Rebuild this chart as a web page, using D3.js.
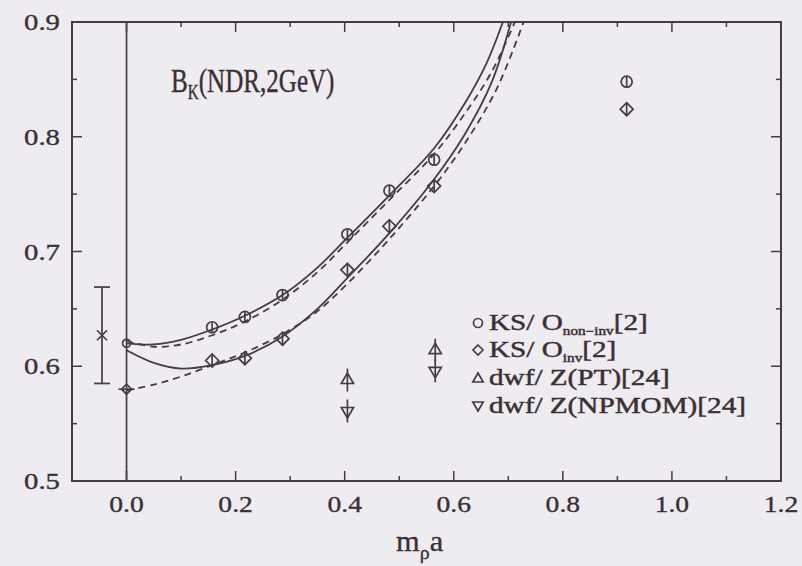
<!DOCTYPE html>
<html><head><meta charset="utf-8">
<script src="https://cdn.jsdelivr.net/npm/d3@7"></script>
<style>
html,body{margin:0;padding:0;background:#eeebf1;}
svg{display:block;}
</style></head>
<body>
<svg id="c" width="802" height="566"></svg>
<script>
// ---- data ----
const xTickValues = [0.0, 0.2, 0.4, 0.6, 0.8, 1.0, 1.2];
const xTickLabels = ["0.0", "0.2", "0.4", "0.6", "0.8", "1.0", "1.2"];
const xMinorTicks = [-0.1, 0.1, 0.3, 0.5, 0.7, 0.9, 1.1];
const yTickValues = [0.5, 0.6, 0.7, 0.8, 0.9];
const yTickLabels = ["0.5", "0.6", "0.7", "0.8", "0.9"];
const yMinorTicks = [0.55, 0.65, 0.75, 0.85];

// KS / O_non-inv (circles)
const ksNonInvX = [0.157, 0.217, 0.286, 0.405, 0.482, 0.564, 0.917];
const ksNonInvY = [0.634, 0.643, 0.662, 0.715, 0.753, 0.780, 0.848];
// KS / O_inv (diamonds)
const ksInvX = [0.157, 0.217, 0.286, 0.405, 0.482, 0.564, 0.917];
const ksInvY = [0.605, 0.607, 0.624, 0.684, 0.722, 0.757, 0.824];
// dwf / Z(PT) (up triangles) with errors
const dwfPtX = [0.405, 0.566];
const dwfPtY = [0.588, 0.614];
const dwfPtErr = [0.010, 0.010];
// dwf / Z(NPMOM) (down triangles) with errors
const dwfNpX = [0.405, 0.566];
const dwfNpY = [0.561, 0.596];
const dwfNpErr = [0.010, 0.010];
// extrapolated values at m_rho a = 0
const extrapCircleY = [0.620];
const extrapDiamondY = [0.580];
// continuum estimate (x mark with error bar)
const finalX = [-0.045];
const finalY = [0.627];
const finalLo = [0.585];
const finalHi = [0.669];

// fit curves
const upperSolidX = [0.0, 0.05, 0.1, 0.157, 0.217, 0.286, 0.35, 0.405, 0.482, 0.564, 0.62, 0.66, 0.69];
const upperSolidY = [0.620, 0.619, 0.623, 0.632, 0.644, 0.662, 0.686, 0.712, 0.749, 0.790, 0.829, 0.864, 0.900];
const upperDashX = [0.0, 0.05, 0.1, 0.157, 0.217, 0.286, 0.35, 0.405, 0.482, 0.564, 0.62, 0.67, 0.712];
const upperDashY = [0.622, 0.617, 0.619, 0.627, 0.639, 0.658, 0.682, 0.708, 0.745, 0.785, 0.820, 0.857, 0.900];
const lowerSolidX = [0.0, 0.05, 0.1, 0.157, 0.217, 0.286, 0.35, 0.405, 0.482, 0.564, 0.62, 0.67, 0.705];
const lowerSolidY = [0.614, 0.603, 0.598, 0.601, 0.609, 0.626, 0.650, 0.677, 0.716, 0.763, 0.802, 0.848, 0.900];
const lowerDashX = [0.0, 0.05, 0.1, 0.157, 0.217, 0.286, 0.35, 0.405, 0.482, 0.564, 0.62, 0.68, 0.728];
const lowerDashY = [0.579, 0.584, 0.591, 0.601, 0.612, 0.628, 0.648, 0.672, 0.711, 0.757, 0.794, 0.843, 0.900];

// ---- drawing ----
const ink = "#463c42";
const textInk = "#3a3035";
const FONT = "'Liberation Serif', 'Times New Roman', Times, serif";
const svg = d3.select("#c").attr("font-family", FONT);
const x = d3.scaleLinear().domain([-0.1, 1.2]).range([72, 781]);
const y = d3.scaleLinear().domain([0.5, 0.9]).range([481, 22]);
const X0 = x.range()[0], X1 = x.range()[1], Y0 = y.range()[0], Y1 = y.range()[1];

svg.append("clipPath").attr("id", "pc").append("rect")
  .attr("x", X0).attr("y", Y1).attr("width", X1 - X0).attr("height", Y0 - Y1);

// frame
svg.append("rect").attr("x", X0).attr("y", Y1).attr("width", X1 - X0).attr("height", Y0 - Y1)
  .attr("fill", "none").attr("stroke", ink).attr("stroke-width", 2);

// vertical line at zero
svg.append("line").attr("x1", x(0)).attr("x2", x(0)).attr("y1", Y1).attr("y2", Y0)
  .attr("stroke", ink).attr("stroke-width", 1.7);

const tk = svg.append("g").attr("stroke", ink).attr("stroke-width", 1.5);
const majL = 10, minL = 5;
xTickValues.forEach(v => {
  tk.append("line").attr("x1", x(v)).attr("x2", x(v)).attr("y1", Y0).attr("y2", Y0 - majL);
  tk.append("line").attr("x1", x(v)).attr("x2", x(v)).attr("y1", Y1).attr("y2", Y1 + majL);
});
xMinorTicks.forEach(v => {
  tk.append("line").attr("x1", x(v)).attr("x2", x(v)).attr("y1", Y0).attr("y2", Y0 - minL);
  tk.append("line").attr("x1", x(v)).attr("x2", x(v)).attr("y1", Y1).attr("y2", Y1 + minL);
});
yTickValues.forEach(v => {
  tk.append("line").attr("x1", X0).attr("x2", X0 + majL).attr("y1", y(v)).attr("y2", y(v));
  tk.append("line").attr("x1", X1).attr("x2", X1 - majL).attr("y1", y(v)).attr("y2", y(v));
});
yMinorTicks.forEach(v => {
  tk.append("line").attr("x1", X0).attr("x2", X0 + minL).attr("y1", y(v)).attr("y2", y(v));
  tk.append("line").attr("x1", X1).attr("x2", X1 - minL).attr("y1", y(v)).attr("y2", y(v));
});

function txt(px, py, size, sx, anchor, sw) {
  return svg.append("text").attr("transform", `translate(${px},${py}) scale(${sx},1)`)
    .attr("text-anchor", anchor || "start").attr("font-size", size)
    .attr("fill", textInk).attr("stroke", textInk).attr("stroke-width", sw || 0.35);
}

// tick labels
xTickValues.forEach((v, i) => {
  txt(x(v), 512, 23, 1.2, "middle").text(xTickLabels[i]);
});
yTickValues.forEach((v, i) => {
  txt(60, y(v) + 8, 23, 1.25, "end").text(yTickLabels[i]);
});

// axis title m_rho a
const xt = txt(396, 551, 29, 1.05);
xt.append("tspan").text("m");
xt.append("tspan").attr("font-size", 19).attr("dy", 8).text("ρ");
xt.append("tspan").attr("dy", -8).text("a");

// title
const tt = txt(171, 92, 33, 0.76, "start", 0.4);
tt.append("tspan").text("B");
tt.append("tspan").attr("font-size", 20).attr("dy", 7).text("K");
tt.append("tspan").attr("dy", -7).text("(NDR,2GeV)");

// curves
const plot = svg.append("g").attr("clip-path", "url(#pc)");
const line = d3.line().x(d => x(d[0])).y(d => y(d[1])).curve(d3.curveCatmullRom.alpha(0.5));
function curve(xs, ys, dash) {
  plot.append("path").datum(xs.map((v, i) => [v, ys[i]]))
    .attr("d", line).attr("fill", "none").attr("stroke", ink)
    .attr("stroke-width", 1.8).attr("stroke-dasharray", dash ? "7,5" : null);
}
curve(upperDashX, upperDashY, true);
curve(lowerDashX, lowerDashY, true);
curve(upperSolidX, upperSolidY, false);
curve(lowerSolidX, lowerSolidY, false);

// symbols
const g = svg.append("g").attr("fill", "none").attr("stroke", ink).attr("stroke-width", 1.7);
function circle(cx, cy, r) {
  g.append("circle").attr("cx", cx).attr("cy", cy).attr("r", r);
}
function diamond(cx, cy, s) {
  g.append("path").attr("d", `M${cx},${cy - s}L${cx + s},${cy}L${cx},${cy + s}L${cx - s},${cy}Z`);
}
function triUp(cx, cy, s) {
  g.append("path").attr("d", `M${cx},${cy - s}L${cx + s * 0.87},${cy + s * 0.5}L${cx - s * 0.87},${cy + s * 0.5}Z`);
}
function triDown(cx, cy, s) {
  g.append("path").attr("d", `M${cx},${cy + s}L${cx + s * 0.87},${cy - s * 0.5}L${cx - s * 0.87},${cy - s * 0.5}Z`);
}
function vbar(cx, y1, y2) {
  g.append("line").attr("x1", cx).attr("x2", cx).attr("y1", y1).attr("y2", y2);
}

ksNonInvX.forEach((v, i) => {
  const cx = x(v), cy = y(ksNonInvY[i]);
  circle(cx, cy, 5.5);
  vbar(cx, cy - 5, cy + 5);
});
ksInvX.forEach((v, i) => {
  const cx = x(v), cy = y(ksInvY[i]);
  diamond(cx, cy, 6.5);
  vbar(cx, cy - 6, cy + 6);
});
dwfPtX.forEach((v, i) => {
  const cx = x(v), cy = y(dwfPtY[i]);
  triUp(cx, cy, 7);
  vbar(cx, y(dwfPtY[i] + dwfPtErr[i]), y(dwfPtY[i] - dwfPtErr[i]));
});
dwfNpX.forEach((v, i) => {
  const cx = x(v), cy = y(dwfNpY[i]);
  triDown(cx, cy, 7);
  vbar(cx, y(dwfNpY[i] + dwfNpErr[i]), y(dwfNpY[i] - dwfNpErr[i]));
});
extrapCircleY.forEach(v => circle(x(0), y(v), 4));
extrapDiamondY.forEach(v => { diamond(x(0), y(v), 5); g.append("line").attr("x1", x(0) - 8).attr("x2", x(0) + 8).attr("y1", y(v)).attr("y2", y(v)); });

finalX.forEach((v, i) => {
  const cx = x(v);
  vbar(cx, y(finalHi[i]), y(finalLo[i]));
  g.append("line").attr("x1", cx - 8).attr("x2", cx + 8).attr("y1", y(finalHi[i])).attr("y2", y(finalHi[i]));
  g.append("line").attr("x1", cx - 8).attr("x2", cx + 8).attr("y1", y(finalLo[i])).attr("y2", y(finalLo[i]));
  const cy = y(finalY[i]);
  g.append("path").attr("d", `M${cx - 5},${cy - 5}L${cx + 5},${cy + 5}M${cx - 5},${cy + 5}L${cx + 5},${cy - 5}`);
});

// legend
const legX = 478, legY = [330, 357, 385, 413];
circle(legX, legY[0] - 7, 4.5);
diamond(legX, legY[1] - 7, 5);
triUp(legX, legY[2] - 6, 6);
triDown(legX, legY[3] - 8, 6);
function legText(yy, main, sub, tail) {
  const t = txt(legX + 11, yy, 23, 1.27, "start", 0.45);
  t.append("tspan").text(main);
  if (sub) {
    t.append("tspan").attr("font-size", 12).attr("dy", 5).text(sub);
    t.append("tspan").attr("dy", -5).text(tail);
  }
}
legText(legY[0], "KS/ O", "non−inv", "[2]");
legText(legY[1], "KS/ O", "inv", "[2]");
legText(legY[2], "dwf/ Z(PT)[24]");
legText(legY[3], "dwf/ Z(NPMOM)[24]");
</script>
</body></html>
